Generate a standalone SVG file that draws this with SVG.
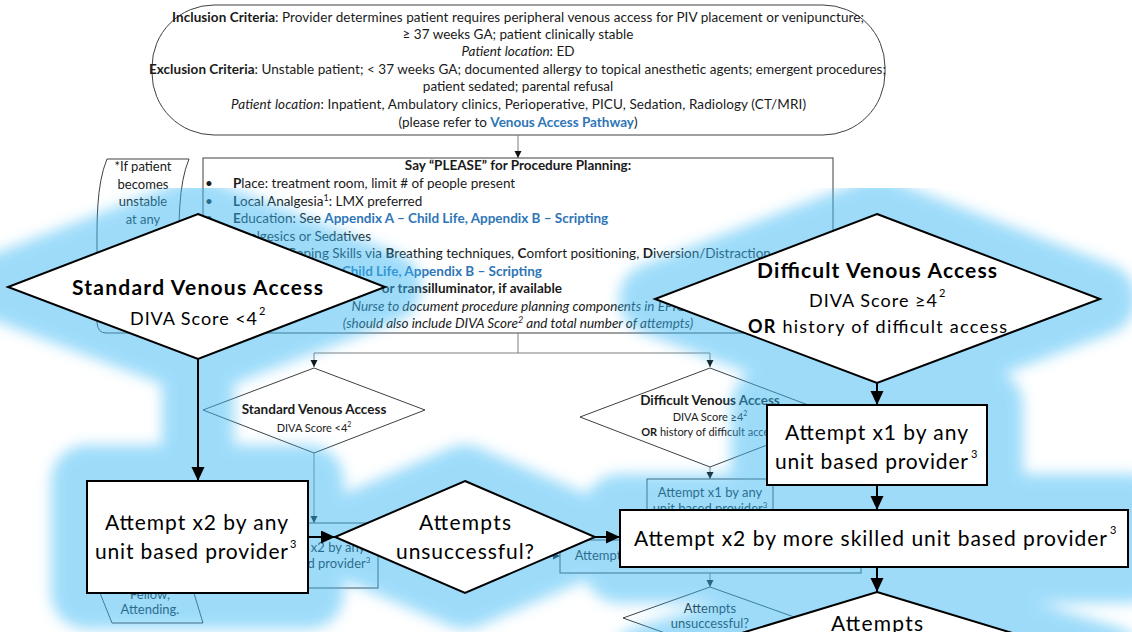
<svg xmlns="http://www.w3.org/2000/svg" width="1132" height="632" viewBox="0 0 1132 632">
<defs>
<style>
text{font-family:Lato,"Liberation Sans",sans-serif;fill:#1a1a1a}
.s{font-size:13.5px}
.n{font-size:13px}
.x{font-size:11px}
.b{font-weight:700}
.i{font-style:italic}
.lk{fill:#2e75b6;font-weight:700}
.bx{fill:#fff;stroke:#404040;stroke-width:1}
.cn{fill:none;stroke:#7f7f7f;stroke-width:1}
.big{fill:#fff;stroke:#000;stroke-width:2}
.bc{fill:none;stroke:#000;stroke-width:2}
.L{font-size:21px;fill:#000}
.M{font-size:18px;fill:#000}
.sp{font-size:11px;fill:#000}
.gl{fill:#3cb9f5;stroke:#3cb9f5;stroke-width:72;stroke-linejoin:round;stroke-linecap:round}
</style>
<marker id="as" markerUnits="userSpaceOnUse" markerWidth="8" markerHeight="8" refX="7" refY="3.5" orient="auto"><path d="M0,0 L7,3.5 L0,7 z" fill="#111"/></marker>
<marker id="ab" markerUnits="userSpaceOnUse" markerWidth="16" markerHeight="14" refX="14" refY="6.5" orient="auto"><path d="M0,0 L14,6.5 L0,13 z" fill="#000"/></marker>
<filter id="blur" x="-5%" y="-5%" width="110%" height="110%"><feGaussianBlur stdDeviation="7"/></filter>
</defs>
<rect width="1132" height="632" fill="#fff"/>

<!-- full-page pathway (small scale) -->
<g id="page">
  <g id="criteria">
    <rect class="bx" x="152" y="5" width="733" height="130" rx="62" ry="62"/>
    <text class="s" x="172" y="22" textLength="692"><tspan class="b">Inclusion Criteria</tspan>: Provider determines patient requires peripheral venous access for PIV placement or venipuncture;</text>
    <text class="s" x="518" y="39" text-anchor="middle">≥ 37 weeks GA; patient clinically stable</text>
    <text class="s" x="518" y="56" text-anchor="middle"><tspan class="i">Patient location</tspan>: ED</text>
    <text class="s" x="149" y="74" textLength="737"><tspan class="b">Exclusion Criteria</tspan>: Unstable patient; &lt; 37 weeks GA; documented allergy to topical anesthetic agents; emergent procedures;</text>
    <text class="s" x="518" y="91" text-anchor="middle">patient sedated; parental refusal</text>
    <text class="s" x="231" y="109" textLength="575"><tspan class="i">Patient location</tspan>: Inpatient, Ambulatory clinics, Perioperative, PICU, Sedation, Radiology (CT/MRI)</text>
    <text class="s" x="518" y="127" text-anchor="middle">(please refer to <tspan class="lk">Venous Access Pathway</tspan>)</text>
  </g>

  <g id="note-top">
    <path class="bx" d="M107,159 L189,159 C178,185 179,225 179,250 L179,323 Q180,333 188,333 L106,333 Q98,333 97,323 L97,250 C97,225 96,185 107,159 Z"/>
    <text class="n" text-anchor="middle"><tspan x="143" y="171">*If patient</tspan><tspan x="143" y="189">becomes</tspan><tspan x="143" y="206">unstable</tspan><tspan x="143" y="224">at any</tspan></text>
  </g>
  <g id="note-bottom">
    <path class="bx" d="M100,486 L192,486 L193,590 L203,623 L112,623 L100,593 Z"/>
    <text class="n" text-anchor="middle"><tspan x="150" y="599">Fellow,</tspan><tspan x="150" y="614">Attending.</tspan></text>
  </g>

  <g id="please">
    <rect class="bx" x="203" y="158" width="630" height="175"/>
    <text class="s b" x="518" y="170" text-anchor="middle">Say “PLEASE” for Procedure Planning:</text>
    <text class="s"><tspan x="205" y="188">•</tspan><tspan x="205" y="206">•</tspan><tspan x="205" y="223">•</tspan><tspan x="205" y="241">•</tspan></text>
    <text class="s" x="233" y="188"><tspan class="b">P</tspan>lace: treatment room, limit # of people present</text>
    <text class="s" x="233" y="206"><tspan class="b">L</tspan>ocal Analgesia<tspan font-size="9" dy="-5">1</tspan><tspan dy="5">: LMX preferred</tspan></text>
    <text class="s" x="233" y="223"><tspan class="b">E</tspan>ducation: See <tspan class="lk">Appendix A – Child Life, Appendix B – Scripting</tspan></text>
    <text class="s" x="233" y="241"><tspan class="b">A</tspan>nalgesics or Sedatives</text>
    <text class="s" x="287" y="258">Coping Skills via <tspan class="b">B</tspan>reathing techniques, <tspan class="b">C</tspan>omfort positioning, <tspan class="b">D</tspan>iversion/Distraction</text>
    <text class="s" x="233" y="276">See <tspan class="lk">Appendix A – Child Life, Appendix B – Scripting</tspan></text>
    <text class="s b" x="562" y="293" text-anchor="end">or transilluminator, if available</text>
    <text class="s i" x="518" y="311" text-anchor="middle">Nurse to document procedure planning components in EPIC</text>
    <text class="s i" x="518" y="328" text-anchor="middle">(should also include DIVA Score<tspan font-size="9" dy="-5">2</tspan><tspan dy="5"> and total number of attempts)</tspan></text>
  </g>

  <g id="page-connectors">
    <path class="cn" d="M518,135 V158" marker-end="url(#as)"/>
    <path class="cn" d="M518,333 V353"/>
    <path class="cn" d="M518,353 H314 V367" marker-end="url(#as)"/>
    <path class="cn" d="M518,353 H710 V367" marker-end="url(#as)"/>
    <path class="cn" d="M314,453 V523" marker-end="url(#as)"/>
    <path class="cn" d="M710,467 V479" marker-end="url(#as)"/>
    <path class="cn" d="M538,556 H560" marker-end="url(#as)"/>
    <path class="cn" d="M710,573 V587" marker-end="url(#as)"/>
  </g>

  <g id="std-small">
    <polygon class="bx" points="314,368 425,410 314,453 203,410"/>
    <text class="s b" x="314" y="414" text-anchor="middle">Standard Venous Access</text>
    <text class="x" x="314" y="432" text-anchor="middle">DIVA Score &lt;4<tspan font-size="7" dy="-5">2</tspan></text>
  </g>
  <g id="diff-small">
    <polygon class="bx" points="710,368 840,417 710,467 580,417"/>
    <text class="s b" x="710" y="405" text-anchor="middle">Difficult Venous Access</text>
    <text class="x" x="710" y="421" text-anchor="middle">DIVA Score ≥4<tspan font-size="7" dy="-5">2</tspan></text>
    <text class="x" x="710" y="436" text-anchor="middle"><tspan class="b">OR</tspan> history of difficult access</text>
  </g>
  <g id="std-attempt-small">
    <rect class="bx" x="249" y="523" width="129" height="65"/>
    <text class="n" x="313" y="552" text-anchor="middle">Attempt x2 by any</text>
    <text class="n" x="313" y="568" text-anchor="middle">unit based provider<tspan font-size="8" dy="-5">3</tspan></text>
  </g>
  <g id="diff-attempt-small">
    <rect class="bx" x="647" y="479" width="126" height="47"/>
    <text class="n" x="710" y="497" text-anchor="middle">Attempt x1 by any</text>
    <text class="n" x="710" y="513" text-anchor="middle">unit based provider<tspan font-size="8" dy="-5">3</tspan></text>
  </g>
  <g id="skilled-small">
    <rect class="bx" x="560" y="540" width="301" height="33"/>
    <text class="n" x="710" y="560" text-anchor="middle">Attempt x2 by more skilled unit based provider<tspan font-size="8" dy="-5">3</tspan></text>
  </g>
  <g id="unsuccessful-small">
    <polygon class="bx" points="710,587 797,618 710,649 623,618"/>
    <text class="n" x="710" y="613" text-anchor="middle">Attempts</text>
    <text class="n" x="710" y="628" text-anchor="middle">unsuccessful?</text>
  </g>
</g>

<!-- highlight halo behind the enlarged steps -->
<g id="halo" filter="url(#blur)" opacity="0.5">
  <polygon class="gl" points="198,214 385,287 198,359 8,287"/>
  <polygon class="gl" points="877,214 1100,299 877,383 655,299"/>
  <path class="gl" d="M198,359 V481 M308,537 H335 M595,537 H620 M877,383 V405 M877,485 V510 M877,567 V592"/>
  <rect class="gl" x="87" y="481" width="221" height="112"/>
  <polygon class="gl" points="465,481 595,537 465,593 335,537"/>
  <rect class="gl" x="767" y="405" width="220" height="80"/>
  <rect class="gl" x="620" y="510" width="508" height="57"/>
  <polygon class="gl" points="877,592 1108,662 877,732 646,662"/>
</g>

<!-- enlarged steps -->
<g id="connectors">
  <path class="bc" d="M198,359 V481" marker-end="url(#ab)"/>
  <path class="bc" d="M308,537 H335" marker-end="url(#ab)"/>
  <path class="bc" d="M595,537 H620" marker-end="url(#ab)"/>
  <path class="bc" d="M877,383 V405" marker-end="url(#ab)"/>
  <path class="bc" d="M877,485 V510" marker-end="url(#ab)"/>
  <path class="bc" d="M877,567 V592" marker-end="url(#ab)"/>
</g>

<g id="standard">
  <polygon class="big" points="198,214 385,287 198,359 8,287"/>
  <text class="L b" x="72" y="295" textLength="251">Standard Venous Access</text>
  <text class="M" x="130" y="325" textLength="127">DIVA Score &lt;4</text>
  <text class="sp" x="259" y="315">2</text>
</g>

<g id="difficult">
  <polygon class="big" points="877,214 1100,299 877,383 655,299"/>
  <text class="L b" x="757" y="278" textLength="240">Difficult Venous Access</text>
  <text class="M" x="809" y="307" textLength="128">DIVA Score ≥4</text>
  <text class="sp" x="939" y="297">2</text>
  <text class="M" x="748" y="333" textLength="259"><tspan font-weight="700">OR</tspan> history of difficult access</text>
</g>

<g id="attempt-any">
  <rect class="big" x="87" y="481" width="221" height="112"/>
  <text class="L" x="105" y="530" textLength="183">Attempt x2 by any</text>
  <text class="L" x="95" y="559" textLength="193">unit based provider</text>
  <text class="sp" x="290" y="548">3</text>
</g>

<g id="unsuccessful">
  <polygon class="big" points="465,481 595,537 465,593 335,537"/>
  <text class="L" x="419" y="530" textLength="92">Attempts</text>
  <text class="L" x="396" y="559" textLength="138">unsuccessful?</text>
</g>

<g id="attempt-one">
  <rect class="big" x="767" y="405" width="220" height="80"/>
  <text class="L" x="785" y="440" textLength="183">Attempt x1 by any</text>
  <text class="L" x="775" y="469" textLength="193">unit based provider</text>
  <text class="sp" x="971" y="458">3</text>
</g>

<g id="attempt-skilled">
  <rect class="big" x="620" y="510" width="508" height="57"/>
  <text class="L" x="634" y="546" textLength="473">Attempt x2 by more skilled unit based provider</text>
  <text class="sp" x="1110" y="534">3</text>
</g>

<g id="unsuccessful-2">
  <polygon class="big" points="877,592 1108,662 877,732 646,662"/>
  <text class="L" x="831" y="631" textLength="92">Attempts</text>
</g>
</svg>
